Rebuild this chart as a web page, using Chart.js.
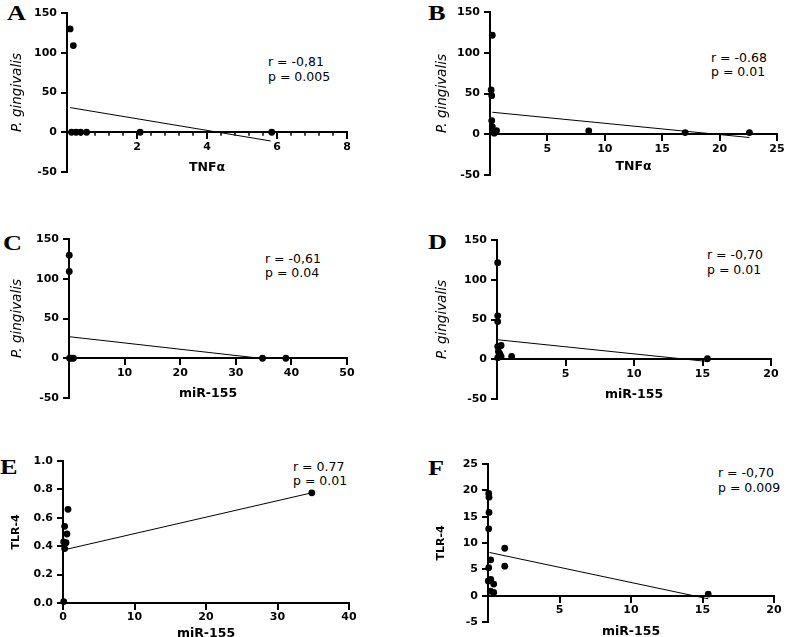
<!DOCTYPE html>
<html>
<head>
<meta charset="utf-8">
<script src="https://cdn.jsdelivr.net/npm/chart.js@4.4.1/dist/chart.umd.min.js"></script>
<style>
  html, body { margin: 0; padding: 0; background: #fff; width: 786px; height: 637px; overflow: hidden; }
  body { position: relative; }
  canvas { position: absolute; }
  .lbl { position: absolute; font-family: 'Liberation Serif', serif; font-weight: bold; font-size: 21px; line-height: 1;
         transform-origin: left center; transform: translateY(-50%) scaleX(1.25); }
  .stat { position: absolute; font-family: 'DejaVu Sans', sans-serif; font-size: 12.5px; line-height: 1; white-space: nowrap;
          transform: translateY(-50%); }
</style>
</head>
<body>
<div class="lbl" style="left:7px;top:13px">A</div>
<div class="lbl" style="left:428px;top:13px">B</div>
<div class="lbl" style="left:3px;top:243px">C</div>
<div class="lbl" style="left:428px;top:242px">D</div>
<div class="lbl" style="left:0px;top:467px">E</div>
<div class="lbl" style="left:428px;top:468px">F</div>

<div class="stat" style="left:268px;top:62px">r = -0,81</div>
<div class="stat" style="left:268px;top:77px">p = 0.005</div>
<div class="stat" style="left:711px;top:58px">r = -0.68</div>
<div class="stat" style="left:711px;top:72px">p = 0.01</div>
<div class="stat" style="left:265px;top:259px">r = -0,61</div>
<div class="stat" style="left:265px;top:273px">p = 0.04</div>
<div class="stat" style="left:707px;top:255px">r = -0,70</div>
<div class="stat" style="left:707px;top:270px">p = 0.01</div>
<div class="stat" style="left:293px;top:467px">r = 0.77</div>
<div class="stat" style="left:293px;top:481px">p = 0.01</div>
<div class="stat" style="left:718px;top:473px">r = -0,70</div>
<div class="stat" style="left:718px;top:488px">p = 0.009</div>

<script>
// ---- A: P. gingivalis vs TNFα ----
const aX = [0.09, 0.18, 0.13, 0.26, 0.39, 0.56, 2.09, 5.85];
const aY = [130, 109, 0, 0, 0, 0, 0, 0];
const aFitX = [0.09, 5.82];
const aFitY = [31, -11];
const aXTicks = [0, 2, 4, 6, 8];
const aYTicks = [-50, 0, 50, 100, 150];

// ---- B: P. gingivalis vs TNFα ----
const bX = [0.2, 0.1, 0.15, 0.15, 0.2, 0.3, 0.57, 0.37, 8.6, 17.0, 22.6];
const bY = [121.5, 54.3, 47.3, 16.8, 9.4, 4.5, 4.5, 1.3, 4.2, 2.1, 2.1];
const bFitX = [0.2, 22.6];
const bFitY = [27, -4];
const bXTicks = [0, 5, 10, 15, 20, 25];
const bYTicks = [-50, 0, 50, 100, 150];

// ---- C: P. gingivalis vs miR-155 ----
const cX = [0.05, 0.05, 0.1, 0.4, 0.8, 34.8, 39.0];
const cY = [129.6, 109.2, 0, 0, 0, 0, 0];
const cFitX = [0.05, 35];
const cFitY = [27.1, -0.5];
const cXTicks = [0, 10, 20, 30, 40, 50];
const cYTicks = [-50, 0, 50, 100, 150];

// ---- D: P. gingivalis vs miR-155 ----
const dX = [0.05, 0.05, 0.05, 0.05, 0.3, 0.1, 0.2, 0.3, 0.05, 1.07, 15.36];
const dY = [121.5, 54.6, 47.4, 16, 17.3, 9.8, 6.9, 3.5, 2, 3.5, 0.6];
const dFitX = [0.07, 15.3];
const dFitY = [24.5, -2.7];
const dXTicks = [0, 5, 10, 15, 20];
const dYTicks = [-50, 0, 50, 100, 150];

// ---- E: TLR-4 vs miR-155 ----
const eX = [0.1, 0.7, 0.23, 0.55, 0.1, 0.42, 0.23, 34.8];
const eY = [0.01, 0.66, 0.54, 0.486, 0.43, 0.425, 0.383, 0.776];
const eFitX = [0.55, 34.8];
const eFitY = [0.379, 0.776];
const eXTicks = [0, 10, 20, 30, 40];
const eYTicks = [0, 0.2, 0.4, 0.6, 0.8, 1.0];

// ---- F: TLR-4 vs miR-155 ----
const fX = [0.05, 0.07, 0.07, 0.05, 0.19, 1.17, 1.17, 0.05, 0.19, 0.4, 0.02, 0.16, 0.4, 15.4];
const fY = [19.4, 18.7, 15.8, 12.7, 6.8, 9.0, 5.6, 5.3, 3.1, 2.2, 2.8, 0.86, 0.6, 0.3];
const fFitX = [0.1, 15.4];
const fFitY = [8.2, -0.6];
const fXTicks = [0, 5, 10, 15, 20];
const fYTicks = [-5, 0, 5, 10, 15, 20, 25];

Chart.defaults.font.family = 'DejaVu Sans';
Chart.defaults.color = '#000';

const toPts = (xs, ys) => xs.map((x, i) => ({ x: x, y: ys[i] }));

// short minor tick marks under the x axis (panel A only)
const minorTicks = {
    id: 'minorTicks',
    afterDraw(chart, args, opts) {
        if (!opts || !opts.step) return;
        const { ctx, scales: { x, y } } = chart;
        const y0 = y.getPixelForValue(0);
        ctx.save();
        ctx.strokeStyle = '#000';
        ctx.lineWidth = 1.5;
        for (let v = opts.step; v < x.max - 1e-6; v += opts.step) {
            const r = v / opts.major;
            if (Math.abs(r - Math.round(r)) < 1e-6) continue;
            const px = x.getPixelForValue(v);
            ctx.beginPath();
            ctx.moveTo(px, y0);
            ctx.lineTo(px, y0 + 3.5);
            ctx.stroke();
        }
        ctx.restore();
    }
};

function makePanel(p) {
    const [L, T, R, B] = p.box;
    const yw = p.yOff + 12;
    const canvas = document.createElement('canvas');
    canvas.width = yw + (R - L) + 22;
    canvas.height = 12 + (B - T) + 42;
    canvas.style.left = (L - yw) + 'px';
    canvas.style.top = (T - 12) + 'px';
    document.body.appendChild(canvas);

    const axisGrid = { display: true, drawOnChartArea: false, drawTicks: true, tickLength: 6, color: '#000', lineWidth: 2 };
    const axisBorder = { display: true, color: '#000', width: 2 };
    const tickFont = { size: 11, weight: 'bold' };

    new Chart(canvas, {
        type: 'scatter',
        data: {
            datasets: [{
                data: toPts(p.xs, p.ys),
                pointRadius: 3.4,
                pointBackgroundColor: '#000',
                pointBorderColor: '#000',
                pointBorderWidth: 0,
                clip: false
            }, {
                data: toPts(p.fitX, p.fitY),
                showLine: true,
                borderColor: '#000',
                borderWidth: 1,
                pointRadius: 0,
                clip: false
            }]
        },
        options: {
            responsive: false,
            animation: false,
            layout: { padding: { left: 0, top: 12, right: 22, bottom: 42 } },
            plugins: {
                legend: { display: false },
                tooltip: { enabled: false },
                minorTicks: p.minor || {}
            },
            scales: {
                x: {
                    type: 'linear',
                    position: { y: 0 },
                    min: p.xTicks[0],
                    max: p.xTicks[p.xTicks.length - 1],
                    afterBuildTicks: s => { s.ticks = p.xTicks.map(v => ({ value: v })); },
                    ticks: {
                        font: tickFont,
                        padding: 2,
                        maxRotation: 0,
                        autoSkip: false,
                        callback: v => (v === 0 && !p.xZero) ? '' : String(v)
                    },
                    grid: axisGrid,
                    border: axisBorder,
                    title: {
                        display: true,
                        text: p.xTitle,
                        font: { size: 12.5, weight: 'bold' },
                        padding: { top: p.xPad, bottom: 0 }
                    }
                },
                y: {
                    type: 'linear',
                    position: 'left',
                    min: p.yTicks[0],
                    max: p.yTicks[p.yTicks.length - 1],
                    afterBuildTicks: s => { s.ticks = p.yTicks.map(v => ({ value: v })); },
                    afterFit: s => { s.width = yw; },
                    ticks: {
                        font: tickFont,
                        padding: 4,
                        autoSkip: false,
                        callback: v => p.yDec ? v.toFixed(p.yDec) : String(v)
                    },
                    grid: axisGrid,
                    border: axisBorder,
                    title: {
                        display: true,
                        text: p.yTitle,
                        font: p.yFont,
                        padding: { top: 4, bottom: 0 }
                    }
                }
            }
        },
        plugins: [minorTicks]
    });
}

const pgFont = { size: 13.5, style: 'italic', weight: 'normal' };
const tlrFont = { size: 11, weight: 'bold' };

makePanel({ box: [67, 13, 347, 172], yOff: 50, xs: aX, ys: aY, fitX: aFitX, fitY: aFitY,
    xTicks: aXTicks, yTicks: aYTicks, xTitle: 'TNFα', xPad: 5, yTitle: 'P. gingivalis', yFont: pgFont,
    minor: { step: 0.4, major: 2 } });
makePanel({ box: [490, 12, 777, 175], yOff: 48, xs: bX, ys: bY, fitX: bFitX, fitY: bFitY,
    xTicks: bXTicks, yTicks: bYTicks, xTitle: 'TNFα', xPad: 2, yTitle: 'P. gingivalis', yFont: pgFont });
makePanel({ box: [69, 239, 347, 398], yOff: 52, xs: cX, ys: cY, fitX: cFitX, fitY: cFitY,
    xTicks: cXTicks, yTicks: cYTicks, xTitle: 'miR-155', xPad: 5, yTitle: 'P. gingivalis', yFont: pgFont });
makePanel({ box: [497, 240, 771, 399], yOff: 55, xs: dX, ys: dY, fitX: dFitX, fitY: dFitY,
    xTicks: dXTicks, yTicks: dYTicks, xTitle: 'miR-155', xPad: 5, yTitle: 'P. gingivalis', yFont: pgFont });
makePanel({ box: [63, 461, 349, 603], yOff: 45, xs: eX, ys: eY, fitX: eFitX, fitY: eFitY,
    xTicks: eXTicks, yTicks: eYTicks, xZero: true, yDec: 1, xTitle: 'miR-155', xPad: 0, yTitle: 'TLR-4', yFont: tlrFont });
makePanel({ box: [488, 464, 774, 622], yOff: 45, xs: fX, ys: fY, fitX: fFitX, fitY: fFitY,
    xTicks: fXTicks, yTicks: fYTicks, xTitle: 'miR-155', xPad: 5, yTitle: 'TLR-4', yFont: tlrFont });
</script>
</body>
</html>
